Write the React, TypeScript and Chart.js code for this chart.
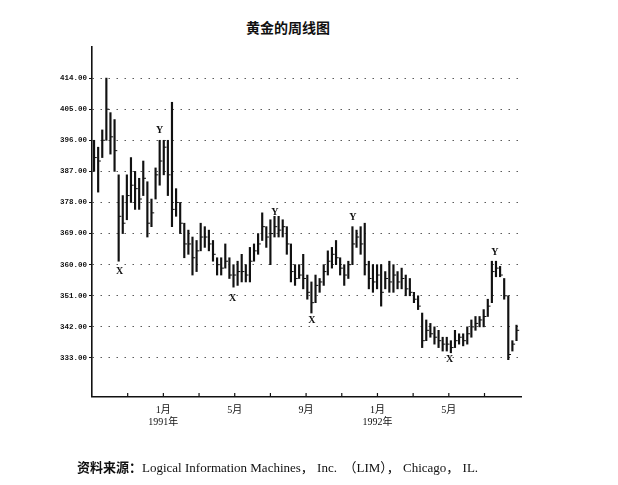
import { useEffect, useRef } from "react";
import { Chart, registerables } from "chart.js";

Chart.register(...registerables);

// weekly gold bars, Sep 1990 - Aug 1992 (one entry per week)
const highs = [
  396, 394, 399, 414, 404, 402, 386, 380, 386, 391,
  387, 385, 390, 384, 379, 388, 396, 396, 396, 407,
  382, 378, 372, 370, 368, 367, 372, 371, 370, 367,
  362, 362, 366, 362, 360, 361, 363, 360, 365, 366,
  369, 375, 371, 373, 374, 374, 373, 371, 366, 360,
  360, 363, 357, 355, 357, 356, 360, 364, 365, 367,
  362, 360, 361, 371, 370, 371, 372, 361, 360, 360,
  360, 358, 361, 360, 358, 359, 357, 356, 352, 351,
  346, 344, 343, 342, 341, 339, 339, 338, 341, 340,
  340, 342, 344, 345, 345, 347, 350, 361, 361, 359.5,
  356, 351, 338, 342.5,
];
const lows = [
  387, 381, 391, 396, 392, 387, 361, 369, 373, 378,
  376, 376, 380, 368, 371, 379, 383, 386, 380, 371,
  374, 369, 362, 363, 357, 358, 364, 365, 364, 361,
  357, 357, 359, 356, 353.5, 354, 355, 355, 355, 361,
  363, 367, 365, 360, 368, 368, 368, 363, 355, 354,
  356, 353, 350, 346, 349, 352, 354, 357, 359, 360,
  357, 354, 356, 360, 365, 363, 357, 353, 352, 353,
  348, 353, 352, 352, 353, 353, 351, 351, 349, 347,
  336, 338, 339, 337, 336, 335, 335, 334.5, 336, 337,
  336.5, 337, 339, 341, 342, 342, 345, 349, 356.5, 356.5,
  350, 332.5, 335, 338,
];
const closes = [
  391, 390, 396, 405, 397, 393, 374, 372, 380, 383,
  382, 379, 385, 372, 375, 386, 390, 394, 386, 376,
  378, 372, 366, 366, 362, 364, 368, 368, 366, 363,
  360, 359, 361, 357, 357, 358, 358, 357, 361, 364,
  366, 371, 368, 369, 371, 370, 371, 366, 358, 356,
  357, 356, 352, 349, 354, 355, 358, 361, 363, 362,
  359, 357, 360, 366, 368, 366, 360, 356, 355, 357,
  352, 356, 355, 357, 355, 356, 353, 352, 350, 348,
  338, 341, 340, 339, 338, 337, 337, 336, 338, 339,
  338, 340, 342, 343, 344, 345, 348, 358, 359, 357,
  351, 334, 337, 341,
];

const yTicks = [333, 342, 351, 360, 369, 378, 387, 396, 405, 414];
// x ticks every two months, in weeks from the start
const xTickWeeks = [8.7, 17.4, 26.1, 34.8, 43.5, 52.2, 60.9, 69.6, 78.3, 87, 95.7];
const xMonthLabels = ["", "1月", "", "5月", "", "9月", "", "1月", "", "5月", ""];
const xYearLabels = ["", "1991年", "", "", "", "", "", "1992年", "", "", ""];

const markerLabels = ["X", "Y", "X", "Y", "X", "Y", "X", "Y"];
const markerWeeks = [6.75, 16.5, 34.3, 44.6, 53.6, 63.6, 87.2, 98.2];
const markerValues = [358, 398.8, 350.2, 375, 343.8, 373.6, 332.5, 363.5];

const overlay = {
  id: "overlay",
  afterDatasetsDraw(chart: any) {
    const { ctx, chartArea } = chart;
    const x = chart.scales.x;
    const y = chart.scales.y;
    ctx.save();
    ctx.strokeStyle = "#111";
    ctx.lineWidth = 1.2;
    xTickWeeks.forEach((w) => {
      const px = x.getPixelForValue(w);
      ctx.beginPath();
      ctx.moveTo(px, chartArea.bottom);
      ctx.lineTo(px, chartArea.bottom - 4);
      ctx.stroke();
    });
    ctx.fillStyle = "#111";
    ctx.font = "bold 10px 'Liberation Serif'";
    ctx.textAlign = "center";
    ctx.textBaseline = "middle";
    markerLabels.forEach((m, i) => {
      ctx.fillText(m, x.getPixelForValue(markerWeeks[i]), y.getPixelForValue(markerValues[i]));
    });
    ctx.restore();
  },
};

function GoldWeeklyChart() {
  const canvasRef = useRef<HTMLCanvasElement>(null);

  useEffect(() => {
    if (!canvasRef.current) return;
    const weeks = highs.map((_, i) => i + 0.5);
    const chart = new Chart(canvasRef.current, {
      type: "bar",
      data: {
        datasets: [
          {
            type: "bar",
            data: weeks.map((w, i) => ({ x: w, y: [lows[i], highs[i]] })) as any,
            backgroundColor: "#111",
            borderWidth: 0,
            barThickness: 1.5,
            grouped: false,
          },
          {
            type: "line",
            data: weeks.map((w, i) => ({ x: w + 0.35, y: closes[i] })),
            showLine: false,
            pointStyle: "line",
            pointRadius: 1.3,
            borderColor: "#111",
            borderWidth: 1,
          } as any,
        ],
      },
      options: {
        responsive: true,
        maintainAspectRatio: false,
        animation: false,
        layout: { padding: { left: 0, right: 97, top: 47, bottom: 0 } },
        plugins: { legend: { display: false }, tooltip: { enabled: false } },
        scales: {
          x: {
            type: "linear",
            offset: false,
            min: 0,
            max: 104.6,
            afterBuildTicks: (s: any) => {
              s.ticks = xTickWeeks.map((v) => ({ value: v }));
            },
            afterFit: (s: any) => {
              s.height = 88;
            },
            grid: { display: true, offset: false, drawOnChartArea: false, drawTicks: false },
            border: { display: true, color: "#111", width: 1.6 },
            ticks: {
              autoSkip: false,
              maxRotation: 0,
              padding: 7,
              color: "#111",
              font: { size: 10, family: "'Liberation Serif', 'Noto Sans CJK SC'", lineHeight: 1.25 },
              callback: (_v: any, i: number) =>
                xYearLabels[i] ? [xMonthLabels[i], xYearLabels[i]] : xMonthLabels[i],
            },
          },
          y: {
            min: 321.7,
            max: 423,
            afterBuildTicks: (s: any) => {
              s.ticks = yTicks.map((v) => ({ value: v }));
            },
            afterFit: (s: any) => {
              s.width = 92;
            },
            grid: { color: "#333", lineWidth: 1.1, drawTicks: true, tickLength: 3, tickColor: "#111" },
            border: { display: true, color: "#111", width: 1.6, dash: [1.2, 6.8] },
            ticks: {
              padding: 2,
              color: "#111",
              font: { size: 7.5, weight: "bold", family: "'Liberation Mono'" },
              callback: (v: any) => Number(v).toFixed(2),
            },
          },
        },
      },
      plugins: [overlay],
    });
    return () => chart.destroy();
  }, []);

  return <canvas ref={canvasRef} />;
}

export default function App() {
  return (
    <div style={{ position: "absolute", left: 0, top: 0, width: 618, height: 485, background: "#fff" }}>
      <div
        style={{
          position: "absolute",
          left: 0,
          top: 18,
          width: 576,
          textAlign: "center",
          fontFamily: "'Noto Sans CJK SC'",
          fontWeight: "bold",
          fontSize: 14,
          lineHeight: "18px",
          color: "#111",
        }}
      >
        黄金的周线图
      </div>
      <div style={{ position: "absolute", left: 0, top: 0, width: 618, height: 485 }}>
        <GoldWeeklyChart />
      </div>
      <div
        style={{
          position: "absolute",
          left: 77,
          top: 458,
          whiteSpace: "pre",
          fontFamily: "'Liberation Serif', 'Noto Sans CJK SC'",
          fontSize: 13,
          lineHeight: "18px",
          color: "#111",
        }}
      >
        <span style={{ fontFamily: "'Noto Sans CJK SC'", fontWeight: "bold" }}>资料来源：</span>
        {"Logical Information Machines， Inc.  （LIM）， Chicago， IL."}
      </div>
    </div>
  );
}
